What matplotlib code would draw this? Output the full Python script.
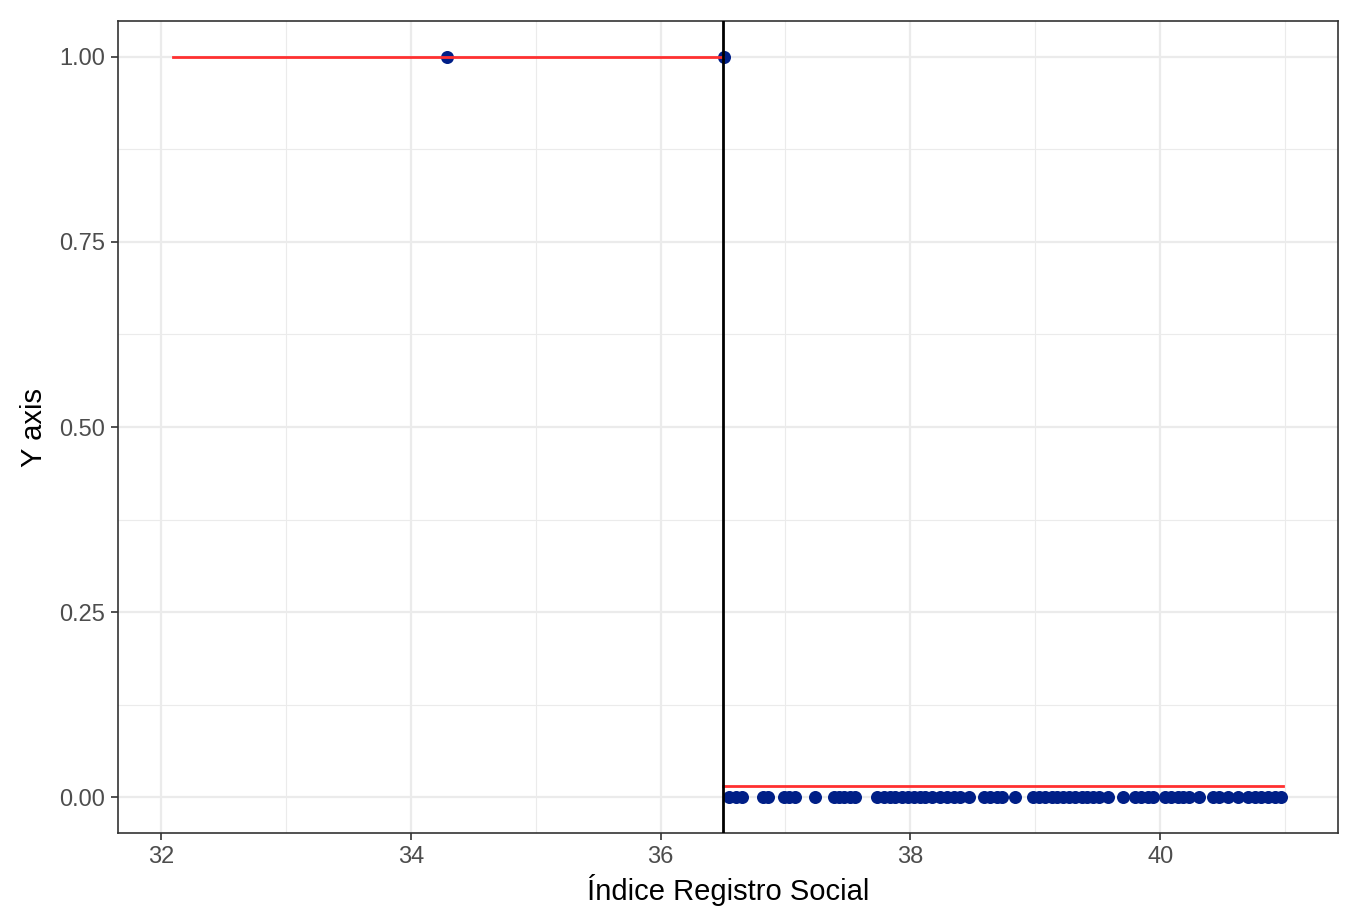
import matplotlib
matplotlib.use("Agg")
import matplotlib.pyplot as plt
from matplotlib.ticker import MultipleLocator

# data
ones_x = [34.29, 36.51]
zeros_x = [
    36.55, 36.60, 36.65, 36.82, 36.86, 36.99, 37.03, 37.08, 37.24,
    37.39, 37.43, 37.47, 37.52, 37.56, 37.73, 37.79, 37.84, 37.88,
    37.93, 37.98, 38.03, 38.08, 38.12, 38.17, 38.24, 38.29, 38.35,
    38.40, 38.47, 38.59, 38.64, 38.69, 38.73, 38.84, 38.98, 39.03,
    39.08, 39.13, 39.17, 39.22, 39.27, 39.32, 39.37, 39.41, 39.46,
    39.51, 39.58, 39.70, 39.80, 39.85, 39.90, 39.94, 40.04, 40.09,
    40.14, 40.18, 40.23, 40.31, 40.42, 40.47, 40.54, 40.62, 40.70,
    40.76, 40.81, 40.86, 40.92, 40.97,
]
cutoff = 36.5
left_fit_x = [32.1, 36.5]
left_fit_y = [1.0, 1.0]
right_fit_x = [36.5, 40.98]
right_fit_y = [0.015, 0.015]

x_ticks = [32, 34, 36, 38, 40]
y_ticks = [0.0, 0.25, 0.5, 0.75, 1.0]

plt.rcParams["font.family"] = ["Liberation Sans", "DejaVu Sans"]

fig = plt.figure(figsize=(13.64, 9.14), dpi=100)
ax = fig.add_axes([0.0865, 0.0886, 0.8945, 0.8884])

ax.scatter(ones_x, [1] * len(ones_x), s=88, color="#001F87", zorder=3, linewidths=0)
ax.scatter(zeros_x, [0] * len(zeros_x), s=88, color="#001F87", zorder=3, linewidths=0)
ax.plot(left_fit_x, left_fit_y, color="#FF3030", lw=2, zorder=4)
ax.plot(right_fit_x, right_fit_y, color="#FF3030", lw=2, zorder=4)
ax.axvline(cutoff, color="black", lw=2, zorder=5)

ax.set_xlim(31.656, 41.424)
ax.set_ylim(-0.048, 1.048)
ax.set_xticks(x_ticks)
ax.set_yticks(y_ticks)
ax.set_yticklabels([f"{v:.2f}" for v in y_ticks])
ax.xaxis.set_minor_locator(MultipleLocator(1))
ax.yaxis.set_minor_locator(MultipleLocator(0.125))

ax.grid(which="major", color="#EBEBEB", lw=1.6, zorder=0)
ax.grid(which="minor", color="#EBEBEB", lw=0.8, zorder=0)
ax.set_axisbelow(True)
for s in ax.spines.values():
    s.set_color("#333333")
    s.set_linewidth(1.2)
ax.tick_params(which="major", length=5, width=1.2, color="#333333",
               labelsize=17, labelcolor="#4D4D4D", pad=4)
ax.tick_params(which="minor", length=0)

ax.set_xlabel("Índice Registro Social", fontsize=21, labelpad=5)
ax.set_ylabel("Y axis", fontsize=21, labelpad=8)

fig.savefig("out.png", dpi=100)
plt.close(fig)
